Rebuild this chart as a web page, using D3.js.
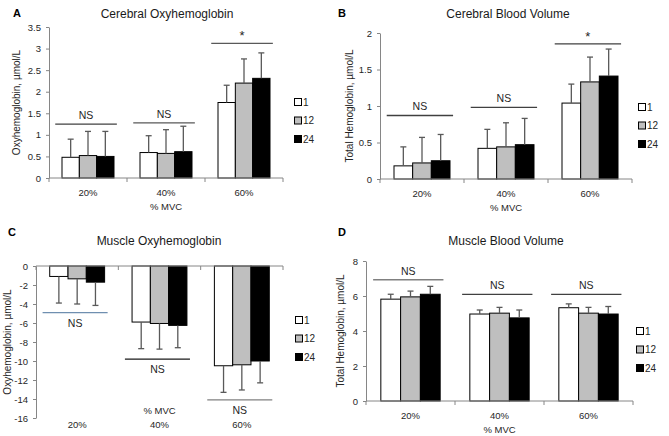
<!DOCTYPE html>
<html>
<head>
<meta charset="utf-8">
<script src="https://cdn.jsdelivr.net/npm/d3@7"></script>
<style>
  body { margin: 0; background: #fff; }
  svg text { font-family: "Liberation Sans", Arial, sans-serif; }
</style>
</head>
<body>
<div id="chart"></div>
<script>
// shared categories / series
const categories = ["20%", "40%", "60%"];
const series = ["1", "12", "24"];
const seriesFill = ["#ffffff", "#bfbfbf", "#000000"];

// A - cerebral oxyhemoglobin (mean, SD)
const cerOxyMean = [[0.48, 0.52, 0.50], [0.59, 0.57, 0.61], [1.75, 2.20, 2.31]];
const cerOxySD = [[0.42, 0.56, 0.58], [0.39, 0.55, 0.59], [0.40, 0.56, 0.59]];
const cerOxySig = [1.25, 1.28, 3.12];
const cerOxySigLabel = ["NS", "NS", "*"];
const cerOxyTicks = [0, 0.5, 1, 1.5, 2, 2.5, 3, 3.5];

// B - cerebral blood volume
const cerVolMean = [[0.18, 0.22, 0.25], [0.42, 0.44, 0.47], [1.04, 1.33, 1.41]];
const cerVolSD = [[0.26, 0.35, 0.36], [0.26, 0.33, 0.36], [0.26, 0.34, 0.37]];
const cerVolSig = [0.87, 0.98, 1.85];
const cerVolSigLabel = ["NS", "NS", "*"];
const cerVolTicks = [0, 0.5, 1, 1.5, 2];

// C - muscle oxyhemoglobin (negative, SD drawn downward)
const musOxyMean = [[-1.1, -1.35, -1.7], [-5.9, -6.05, -6.25], [-10.5, -10.4, -10.0]];
const musOxySD = [[2.8, 2.65, 2.45], [2.8, 2.7, 2.35], [2.8, 2.65, 2.3]];
const musOxySig = [-4.9, -9.8, -14.1];
const musOxySigLabel = ["NS", "NS", "NS"];
const musOxyTicks = [0, -2, -4, -6, -8, -10, -12, -14, -16];

// D - muscle blood volume
const musVolMean = [[5.82, 5.95, 6.10], [4.97, 5.02, 4.75], [5.33, 5.02, 4.97]];
const musVolSD = [[0.28, 0.33, 0.45], [0.23, 0.33, 0.45], [0.22, 0.33, 0.43]];
const musVolSig = [6.93, 6.09, 6.09];
const musVolSigLabel = ["NS", "NS", "NS"];
const musVolTicks = [0, 2, 4, 6, 8];

const svg = d3.select("#chart").append("svg")
  .attr("width", 669)
  .attr("height", 436);

const panels = [
  { letter: "A", lx: 13, ly: 17, title: "Cerebral Oxyhemoglobin", yLabel: "Oxyhemoglobin, \u00b5mol/L",
    mean: cerOxyMean, sd: cerOxySD, sig: cerOxySig, sigLabel: cerOxySigLabel, ticks: cerOxyTicks,
    x0: 49, x1: 283, yBase: 178, yTop: 27, domain: [0, 3.5], titleX: 167, titleY: 18, yLabelX: 16,
    legendX: 298, legendY: 102, sigColors: ["#404040", "#595959", "#595959"], down: false },
  { letter: "B", lx: 338, ly: 17, title: "Cerebral Blood Volume", yLabel: "Total Hemoglobin, \u00b5mol/L",
    mean: cerVolMean, sd: cerVolSD, sig: cerVolSig, sigLabel: cerVolSigLabel, ticks: cerVolTicks,
    x0: 380, x1: 632, yBase: 179, yTop: 33, domain: [0, 2], titleX: 508, titleY: 18, yLabelX: 349,
    legendX: 642, legendY: 107, sigColors: ["#404040", "#404040", "#404040"], down: false },
  { letter: "C", lx: 8, ly: 236, title: "Muscle Oxyhemoglobin", yLabel: "Oxyhemoglobin, \u00b5mol/L",
    mean: musOxyMean, sd: musOxySD, sig: musOxySig, sigLabel: musOxySigLabel, ticks: musOxyTicks,
    x0: 36, x1: 283, yBase: 266, yTop: 418, domain: [0, -16], titleX: 159, titleY: 245, yLabelX: 7,
    legendX: 299, legendY: 320, sigColors: ["#6f8fb0", "#1a1a1a", "#808080"], down: true },
  { letter: "D", lx: 338, ly: 236, title: "Muscle Blood Volume", yLabel: "Total Hemoglobin, \u00b5mol/L",
    mean: musVolMean, sd: musVolSD, sig: musVolSig, sigLabel: musVolSigLabel, ticks: musVolTicks,
    x0: 366, x1: 633, yBase: 401, yTop: 261, domain: [0, 8], titleX: 506, titleY: 245, yLabelX: 340,
    legendX: 640, legendY: 331, sigColors: ["#808080", "#404040", "#404040"], down: false }
];

panels.forEach(drawPanel);

function drawPanel(p) {
  const g = svg.append("g");

  const x = d3.scaleBand().domain(categories).range([p.x0, p.x1]).padding(0);
  const bw = x.bandwidth();
  const xs = d3.scaleBand().domain(series).range([bw / 6, bw * 5 / 6]).padding(0);
  const y = d3.scaleLinear().domain(p.domain).range([p.yBase, p.yTop]);

  // panel letter + title
  g.append("text").attr("x", p.lx).attr("y", p.ly)
    .style("font-size", "11px").style("font-weight", "bold").text(p.letter);
  g.append("text").attr("x", p.titleX).attr("y", p.titleY)
    .attr("text-anchor", "middle").style("font-size", "12px").attr("fill", "#1a1a1a")
    .text(p.title);

  // y axis
  const yAxis = g.append("g")
    .attr("transform", `translate(${p.x0},0)`)
    .call(d3.axisLeft(y).tickValues(p.ticks).tickSize(3).tickSizeOuter(0).tickPadding(5)
      .tickFormat(d => String(d)));
  yAxis.select(".domain").attr("stroke", "#868686");
  yAxis.selectAll(".tick line").attr("stroke", "#868686");
  yAxis.selectAll(".tick text").style("font-size", "9.5px").attr("fill", "#262626");

  // y axis title
  const yMid = (p.yBase + p.yTop) / 2;
  g.append("text")
    .attr("transform", `translate(${p.yLabelX},${yMid}) rotate(-90)`)
    .attr("text-anchor", "middle").attr("dy", "0.35em")
    .style("font-size", "10px").attr("fill", "#262626")
    .text(p.yLabel);

  // bars
  categories.forEach((c, ci) => {
    series.forEach((s, si) => {
      const v = p.mean[ci][si];
      const e = p.sd[ci][si];
      const bx = x(c) + xs(s);
      g.append("rect")
        .attr("x", bx).attr("width", xs.bandwidth())
        .attr("y", Math.min(y(v), y(0)))
        .attr("height", Math.abs(y(v) - y(0)))
        .attr("fill", seriesFill[si]).attr("stroke", "#000").attr("stroke-width", 1);
      const ex = bx + xs.bandwidth() / 2;
      const end = p.down ? v - e : v + e;
      g.append("line").attr("x1", ex).attr("x2", ex)
        .attr("y1", y(v)).attr("y2", y(end))
        .attr("stroke", "#595959").attr("stroke-width", 1.3);
      g.append("line").attr("x1", ex - 3).attr("x2", ex + 3)
        .attr("y1", y(end)).attr("y2", y(end))
        .attr("stroke", "#595959").attr("stroke-width", 1.3);
    });
  });

  // x axis at zero
  g.append("line").attr("x1", p.x0).attr("x2", p.x1)
    .attr("y1", y(0)).attr("y2", y(0)).attr("stroke", "#868686");
  const bounds = categories.map(c => x(c)).concat([p.x1]);
  g.selectAll(null).data(bounds).join("line")
    .attr("x1", d => d).attr("x2", d => d)
    .attr("y1", y(0)).attr("y2", y(0) + 4)
    .attr("stroke", "#868686");

  // category labels + axis title
  const labY = p.down ? p.yTop + 10 : p.yBase + 18;
  const mvcY = p.down ? p.yTop - 4 : p.yBase + 32;
  g.selectAll(null).data(categories).join("text")
    .attr("x", d => x(d) + bw / 2).attr("y", labY)
    .attr("text-anchor", "middle").style("font-size", "9.5px").attr("fill", "#262626")
    .text(d => d);
  g.append("text").attr("x", x(categories[1]) + bw / 2).attr("y", mvcY)
    .attr("text-anchor", "middle").style("font-size", "9.5px").attr("fill", "#262626")
    .text("% MVC");

  // significance lines
  categories.forEach((c, ci) => {
    const ly = y(p.sig[ci]);
    g.append("line")
      .attr("x1", x(c) + bw * 0.08).attr("x2", x(c) + bw * 0.87)
      .attr("y1", ly).attr("y2", ly)
      .attr("stroke", p.sigColors[ci]).attr("stroke-width", 1.3);
    const star = p.sigLabel[ci] === "*";
    g.append("text")
      .attr("x", x(c) + bw * 0.475)
      .attr("y", p.down ? ly + 14 : ly - (star ? 3 : 5))
      .attr("text-anchor", "middle")
      .style("font-size", star ? "13px" : "10.5px").attr("fill", "#262626")
      .text(p.sigLabel[ci]);
  });

  // legend
  series.forEach((s, si) => {
    const ly = p.legendY + si * 18.5;
    g.append("rect").attr("x", p.legendX - 3.5).attr("y", ly - 3.5)
      .attr("width", 7).attr("height", 7)
      .attr("fill", seriesFill[si]).attr("stroke", "#000");
    g.append("text").attr("x", p.legendX + 5).attr("y", ly).attr("dy", "0.35em")
      .style("font-size", "10px").attr("fill", "#262626").text(s);
  });
}
</script>
</body>
</html>
